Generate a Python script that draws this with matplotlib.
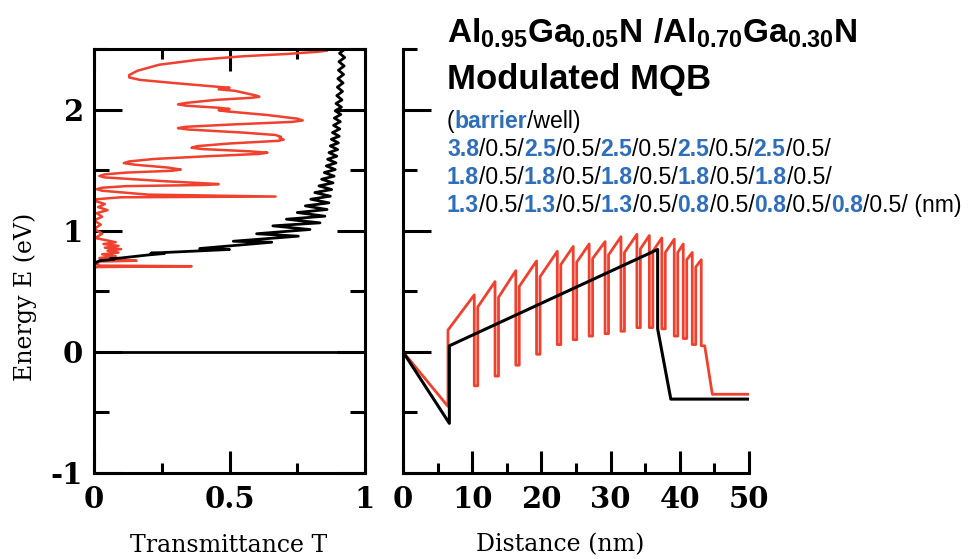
import matplotlib
matplotlib.use('Agg')
import matplotlib.pyplot as plt
from matplotlib.ticker import MultipleLocator, FixedLocator

plt.rcParams['axes.unicode_minus'] = False
plt.rcParams['font.family'] = 'DejaVu Serif'
plt.rcParams['mathtext.fontset'] = 'custom'
plt.rcParams['mathtext.bf'] = 'Liberation Sans:bold'
plt.rcParams['mathtext.rm'] = 'Liberation Sans'

BLUE = '#2F6EBA'
RED = '#F0402E'

# ---- left panel: transmittance (T, E) ----
red_T = [0.845, 0.86, 0.83, 0.72, 0.55, 0.38, 0.24, 0.16, 0.13, 0.13, 0.17, 0.29, 0.42, 0.50,
         0.46, 0.52, 0.60, 0.61, 0.58, 0.45, 0.34, 0.31, 0.34, 0.46, 0.50, 0.46, 0.49, 0.64,
         0.75, 0.77, 0.73, 0.52, 0.34, 0.31, 0.35, 0.55, 0.67, 0.69, 0.685, 0.70, 0.68, 0.50,
         0.38, 0.36, 0.40, 0.57, 0.64, 0.61, 0.42, 0.22, 0.13, 0.11, 0.15, 0.27, 0.32, 0.29,
         0.12, 0.04, 0.02, 0.04, 0.25, 0.46, 0.42, 0.12, 0.03, 0.01, 0.03, 0.20, 0.67, 0.10,
         0.01, 0.005, 0.04, 0.015, 0.05, 0.01, 0.03, 0.0, 0.025, 0.0, 0.03, 0.005, 0.08, 0.035,
         0.09, 0.04, 0.10, 0.05, 0.09, 0.03, 0.08, 0.02, 0.03, 0.157, 0.02, 0.01, 0.02, 0.36,
         0.01, 0.0]
red_E = [2.49, 2.487, 2.478, 2.46, 2.44, 2.41, 2.37, 2.32, 2.285, 2.265, 2.245, 2.22, 2.195, 2.18,
         2.167, 2.155, 2.115, 2.105, 2.097, 2.08, 2.055, 2.043, 2.032, 2.015, 2.005, 1.995, 1.985, 1.955,
         1.925, 1.91, 1.898, 1.878, 1.858, 1.847, 1.835, 1.81, 1.79, 1.775, 1.765, 1.752, 1.742, 1.72,
         1.698, 1.685, 1.674, 1.656, 1.644, 1.634, 1.615, 1.592, 1.572, 1.558, 1.545, 1.522, 1.505, 1.495,
         1.48, 1.465, 1.452, 1.44, 1.41, 1.385, 1.378, 1.368, 1.355, 1.343, 1.33, 1.298, 1.282, 1.276,
         1.26, 1.245, 1.22, 1.195, 1.17, 1.145, 1.115, 1.085, 1.05, 1.015, 0.975, 0.94, 0.905, 0.89,
         0.875, 0.86, 0.848, 0.835, 0.82, 0.805, 0.79, 0.775, 0.76, 0.752, 0.746, 0.725, 0.712, 0.707,
         0.70, 0.69]

black_T = [0.0, 0.005, 0.02, 0.055, 0.075, 0.06, 0.10, 0.20, 0.26, 0.21, 0.50, 0.39, 0.656, 0.514,
           0.754, 0.60, 0.797, 0.66, 0.834, 0.71, 0.852, 0.75, 0.86, 0.78, 0.867, 0.80, 0.872, 0.815,
           0.877, 0.83, 0.882, 0.84, 0.886, 0.85, 0.89, 0.857, 0.893, 0.862, 0.896, 0.867, 0.899, 0.872,
           0.902, 0.876, 0.905, 0.88, 0.907, 0.884, 0.909, 0.887, 0.911, 0.89, 0.913, 0.893, 0.915, 0.896,
           0.917, 0.898, 0.919, 0.90, 0.921, 0.902, 0.923, 0.904, 0.925, 0.906, 0.926]
black_E = [0.69, 0.735, 0.752, 0.76, 0.765, 0.768, 0.775, 0.80, 0.812, 0.815, 0.845, 0.853, 0.905, 0.913,
           0.955, 0.975, 1.01, 1.04, 1.065, 1.095, 1.12, 1.15, 1.175, 1.205, 1.23, 1.26, 1.285, 1.315,
           1.34, 1.37, 1.395, 1.425, 1.45, 1.48, 1.505, 1.535, 1.56, 1.59, 1.615, 1.645, 1.67, 1.70,
           1.725, 1.755, 1.78, 1.81, 1.84, 1.87, 1.90, 1.93, 1.96, 1.99, 2.02, 2.05, 2.08, 2.115,
           2.15, 2.185, 2.22, 2.255, 2.29, 2.325, 2.36, 2.395, 2.43, 2.465, 2.50]

# ---- right panel: band profile ----
barrier_nm = [3.8, 2.5, 2.5, 2.5, 2.5, 1.8, 1.8, 1.8, 1.8, 1.8, 1.3, 1.3, 1.3, 0.8, 0.8, 0.8]
well_nm = 0.5
barrier_lo = [0.18, 0.37, 0.45, 0.54, 0.62, 0.72, 0.74, 0.77, 0.80, 0.82, 0.85, 0.83, 0.82, 0.82, 0.76, 0.70]
barrier_hi = [0.47, 0.58, 0.67, 0.75, 0.83, 0.87, 0.89, 0.91, 0.95, 0.97, 0.96, 0.94, 0.93, 0.89, 0.82, 0.76]
well_lo = [-0.28, -0.20, -0.11, -0.02, 0.06, 0.10, 0.13, 0.15, 0.17, 0.20, 0.20, 0.19, 0.13, 0.11, 0.06, 0.05]
red_head_x = [0, 6.5]
red_head_y = [0, -0.45]
red_tail_x = [44.7, 50]
red_tail_y = [-0.35, -0.35]

black_x = [0, 6.7, 6.7, 36.8, 36.8, 38.7, 50]
black_y = [0, -0.59, 0.05, 0.845, 0.19, -0.39, -0.39]

# build red profile from layer thicknesses
rx = list(red_head_x)
ry = list(red_head_y)
pos = red_head_x[-1]
for b, lo, hi, wl in zip(barrier_nm, barrier_lo, barrier_hi, well_lo):
    rx += [pos, pos + b]
    ry += [lo, hi]
    pos += b
    rx += [pos, pos + well_nm]
    ry += [wl, wl]
    pos += well_nm
rx += red_tail_x
ry += red_tail_y

fig = plt.figure(figsize=(9.68, 5.59), dpi=100)
W, H = 968, 559
bottom = 1 - 473 / H
height = (473 - 49) / H
ax1 = fig.add_axes([94 / W, bottom, (365 - 94) / W, height])
ax2 = fig.add_axes([403 / W, bottom, (749 - 403) / W, height])

# left panel
ax1.plot(red_T, red_E, color=RED, lw=1.8)
ax1.plot(black_T, black_E, color='k', lw=2.0)
ax1.axhline(0, color='k', lw=2)
ax1.set_xlim(0, 1)
ax1.set_ylim(-1, 2.5)
ax1.xaxis.set_major_locator(FixedLocator([0, 0.5, 1]))
ax1.set_xticklabels(['0', '0.5', '1'])
ax1.xaxis.set_minor_locator(FixedLocator([0.25, 0.75]))
ax1.yaxis.set_major_locator(FixedLocator([-1, 0, 1, 2]))
ax1.set_yticklabels(['-1', '0', '1', '2'])
ax1.yaxis.set_minor_locator(FixedLocator([-0.5, 0.5, 1.5, 2.5]))
ax1.tick_params(which='both', direction='in', top=True, right=True, width=2.2)
ax1.tick_params(axis='x', which='major', length=16, pad=9)
ax1.tick_params(axis='x', which='minor', length=7)
ax1.tick_params(axis='y', which='major', length=20, pad=8)
ax1.tick_params(axis='y', which='minor', length=11)

# right panel
ax2.plot(rx, ry, color=RED, lw=2.0)
ax2.plot(black_x, black_y, color='k', lw=2.2)
ax2.set_xlim(0, 50)
ax2.set_ylim(-1, 2.5)
ax2.xaxis.set_major_locator(MultipleLocator(10))
ax2.xaxis.set_minor_locator(MultipleLocator(5))
ax2.yaxis.set_major_locator(MultipleLocator(1))
ax2.yaxis.set_minor_locator(MultipleLocator(0.5))
ax2.tick_params(which='both', direction='in', width=2.2, labelleft=False)
ax2.tick_params(axis='x', which='major', length=16, pad=9)
ax2.tick_params(axis='x', which='minor', length=7)
ax2.tick_params(axis='y', which='major', length=20)
ax2.tick_params(axis='y', which='minor', length=10)
ax2.spines['top'].set_visible(False)
ax2.spines['right'].set_visible(False)

for ax in (ax1, ax2):
    for s in ax.spines.values():
        s.set_linewidth(2.2)
    for lbl in ax.get_xticklabels() + ax.get_yticklabels():
        lbl.set_fontsize(21)
        lbl.set_fontweight('bold')

fig.text(229 / W, 1 - 545 / H, 'Transmittance T', ha='center', va='center', fontsize=17)
fig.text(560 / W, 1 - 545 / H, 'Distance (nm)', ha='center', va='center', fontsize=17)
fig.text(25 / W, 1 - 297 / H, 'Energy E (eV)', rotation=90, ha='center', va='center', fontsize=17)

# title block
fig.text(447 / W, 1 - 43 / H, r'$\mathbf{Al_{0.95}Ga_{0.05}N\ /Al_{0.70}Ga_{0.30}N}$',
         ha='left', va='baseline', fontsize=24)
fig.text(447 / W, 1 - 89 / H, 'Modulated MQB', family='Liberation Sans', fontweight='bold',
         ha='left', va='baseline', fontsize=25)


def rich_line(y_px, pieces, size=16.6):
    prev = None
    for txt, col, wt in pieces:
        if prev is None:
            prev = fig.text(447 / W, 1 - y_px / H, txt, color=col, fontweight=wt, fontsize=size,
                            family='Liberation Sans', ha='left', va='bottom')
        else:
            prev = ax2.annotate(txt, xy=(1, 0), xycoords=prev, color=col, fontweight=wt,
                                fontsize=size, family='Liberation Sans', ha='left', va='bottom',
                                annotation_clip=False)


rich_line(133, [('(', 'k', 'normal'), ('barrier', BLUE, 'bold'), ('/well)', 'k', 'normal')])
groups = [barrier_nm[0:5], barrier_nm[5:10], barrier_nm[10:16]]
ys = [161, 189, 217]
for i, (grp, y) in enumerate(zip(groups, ys)):
    pieces = []
    for b in grp:
        pieces.append((f'{b:.1f}', BLUE, 'bold'))
        pieces.append((f'/{well_nm}/', 'k', 'normal'))
    if i == 2:
        pieces.append((' (nm)', 'k', 'normal'))
    rich_line(y, pieces)

fig.savefig('out.png', dpi=100)
